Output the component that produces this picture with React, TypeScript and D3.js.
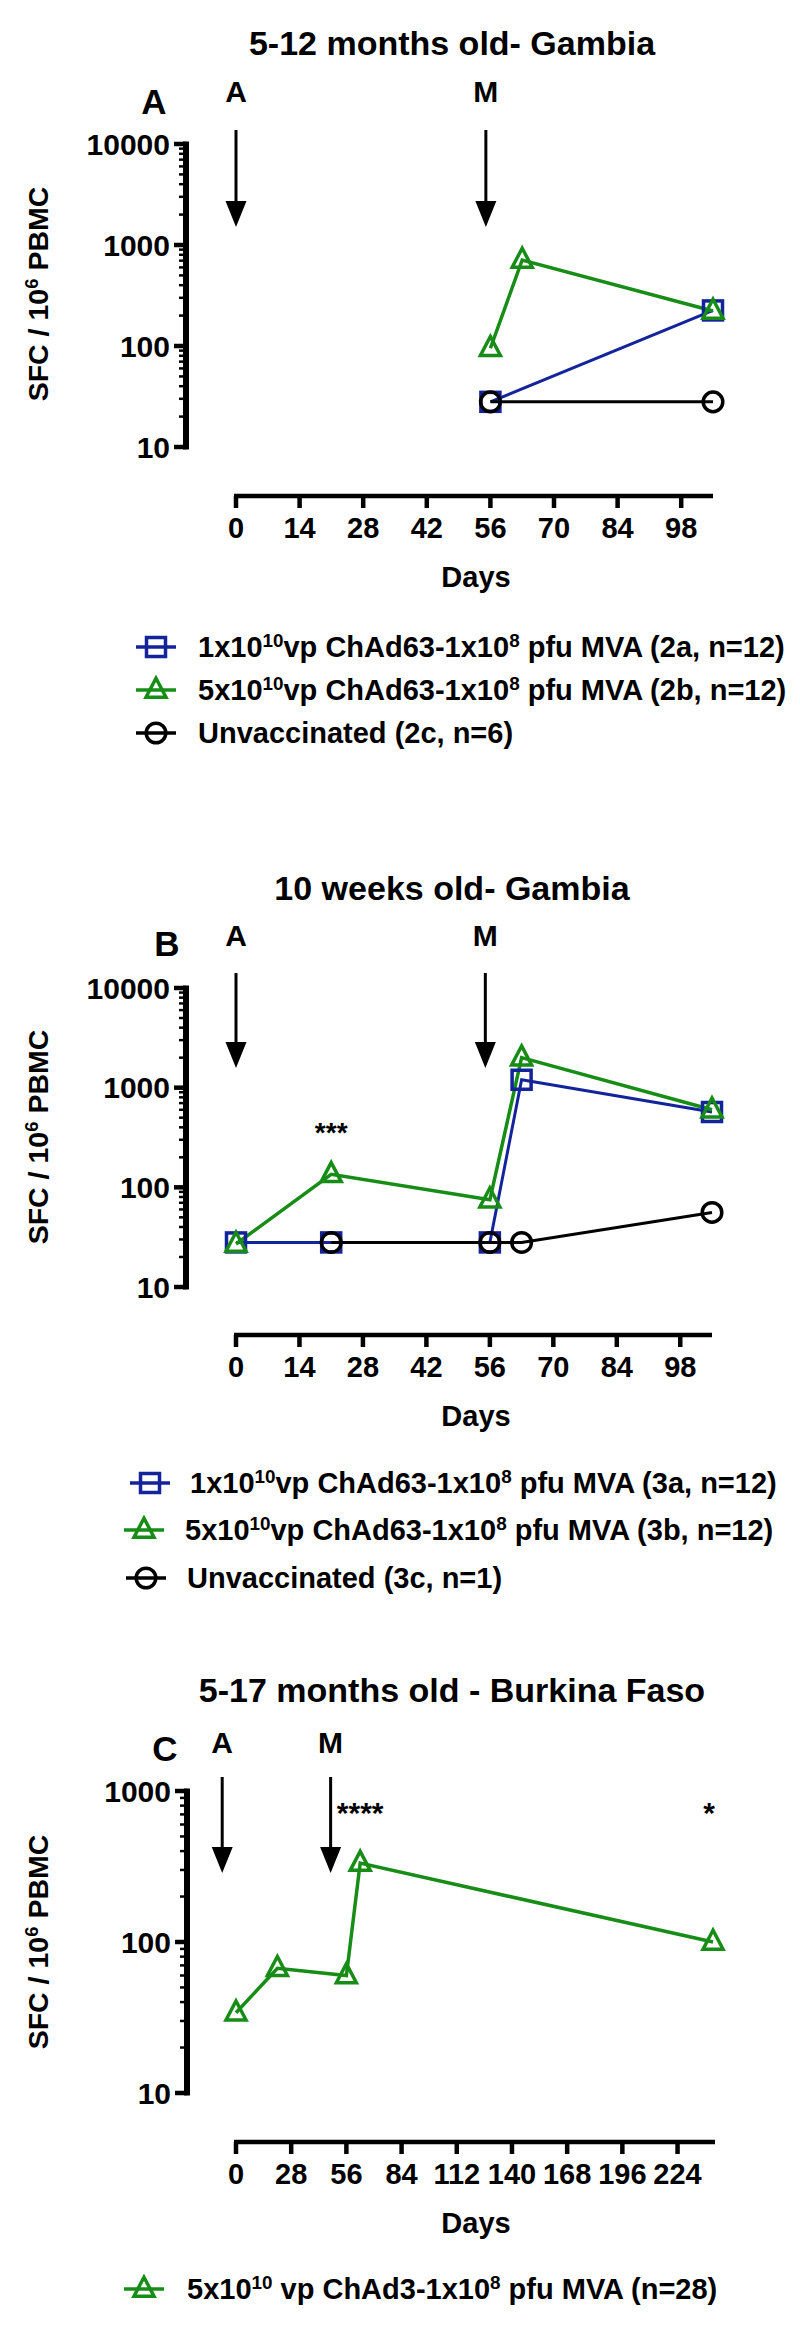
import React from "react";
import * as d3 from "d3";

// ---------- DATA ----------
// Panel A: 5-12 months old - Gambia
const daysA_2a = [56, 105];
const sfcA_2a = [28, 225];
const daysA_2b = [56, 63, 105];
const sfcA_2b = [95, 710, 222];
const daysA_2c = [56, 105];
const sfcA_2c = [28, 28];

// Panel B: 10 weeks old - Gambia
const daysB_3a = [0, 21, 56, 63, 105];
const sfcB_3a = [28, 28, 28, 1200, 570];
const daysB_3b = [0, 21, 56, 63, 105];
const sfcB_3b = [27, 135, 75, 2000, 600];
const daysB_3c = [21, 56, 63, 105];
const sfcB_3c = [28, 28, 28, 56];

// Panel C: 5-17 months old - Burkina Faso
const daysC = [0, 21, 56, 63, 242];
const sfcC = [34, 67, 60, 333, 100];

const xTicksAB = [0, 14, 28, 42, 56, 70, 84, 98];
const xTicksC = [0, 28, 56, 84, 112, 140, 168, 196, 224];
const yTicksAB = [10, 100, 1000, 10000];
const yTicksC = [10, 100, 1000];

const titles = ["5-12 months old- Gambia", "10 weeks old- Gambia", "5-17 months old - Burkina Faso"];
const panelLetters = ["A", "B", "C"];
const arrowDaysAB = [0, 55];
const arrowDaysC = [-7, 48];
const arrowLabels = ["A", "M"];

const legendA = [
  { pre: "1x10", sup1: "10", mid: "vp ChAd63-1x10", sup2: "8", post: " pfu MVA (2a, n=12)" },
  { pre: "5x10", sup1: "10", mid: "vp ChAd63-1x10", sup2: "8", post: " pfu MVA (2b, n=12)" },
  { pre: "Unvaccinated (2c, n=6)" },
];
const legendB = [
  { pre: "1x10", sup1: "10", mid: "vp ChAd63-1x10", sup2: "8", post: " pfu MVA (3a, n=12)" },
  { pre: "5x10", sup1: "10", mid: "vp ChAd63-1x10", sup2: "8", post: " pfu MVA (3b, n=12)" },
  { pre: "Unvaccinated (3c, n=1)" },
];
const legendC = [
  { pre: "5x10", sup1: "10", mid: " vp ChAd3-1x10", sup2: "8", post: " pfu MVA (n=28)" },
];

// ---------- STYLE ----------
const BLUE = "#13239a";
const GREEN = "#178c17";
const BLACK = "#000";
const FONT = "'Liberation Sans', Arial, Helvetica, sans-serif";

type Shape = "square" | "triangle" | "circle";

function Marker({ x, y, shape, color }: { x: number; y: number; shape: Shape; color: string }) {
  if (shape === "square") {
    const s = 19;
    return <rect x={x - s / 2} y={y - s / 2} width={s} height={s} fill="none" stroke={color} strokeWidth={3.5} />;
  }
  if (shape === "circle") {
    return <circle cx={x} cy={y} r={9.8} fill="none" stroke={color} strokeWidth={3.5} />;
  }
  const w = 20, h = 19;
  const p = `M${x},${y - h * 0.62} L${x + w / 2},${y + h * 0.38} L${x - w / 2},${y + h * 0.38} Z`;
  return <path d={p} fill="none" stroke={color} strokeWidth={3.5} strokeLinejoin="miter" />;
}

function Sup({ children }: { children: React.ReactNode }) {
  return (
    <tspan baselineShift="super" fontSize="0.65em">
      {children}
    </tspan>
  );
}

function LegendText({ item }: { item: any }) {
  if (!item.sup1) return <>{item.pre}</>;
  return (
    <>
      {item.pre}
      <Sup>{item.sup1}</Sup>
      <tspan>{item.mid}</tspan>
      <Sup>{item.sup2}</Sup>
      <tspan>{item.post}</tspan>
    </>
  );
}

type Series = { days: number[]; vals: number[]; color: string; shape: Shape; width: number };

type PanelLayout = {
  title: string;
  titleY: number;
  letter: string;
  letterX: number;
  letterY: number;
  arrowLabelY: number;
  arrowTop: number;
  arrowTip: number;
  arrowDays: number[];
  yAxisX: number;
  yRange: [number, number];
  yDomain: [number, number];
  yTicks: number[];
  xAxisY: number;
  xRange: [number, number];
  xDomain: [number, number];
  xTicks: number[];
  ylabelY: number;
  series: Series[];
  legend: any[];
  legendShapes: { shape: Shape; color: string }[];
  legendY: number[];
  legendMarkerX: number[];
  legendTextX: number[];
  stars: { day: number; y: number; text: string; size: number }[];
};

const panels: PanelLayout[] = [
  {
    title: titles[0], titleY: 43, letter: panelLetters[0], letterX: 154, letterY: 101,
    arrowLabelY: 91, arrowTop: 130, arrowTip: 227, arrowDays: arrowDaysAB,
    yAxisX: 186, yRange: [447, 144], yDomain: [10, 10000], yTicks: yTicksAB,
    xAxisY: 496, xRange: [236, 713], xDomain: [0, 105], xTicks: xTicksAB, ylabelY: 294,
    series: [
      { days: daysA_2a, vals: sfcA_2a, color: BLUE, shape: "square", width: 3 },
      { days: daysA_2c, vals: sfcA_2c, color: BLACK, shape: "circle", width: 3 },
      { days: daysA_2b, vals: sfcA_2b, color: GREEN, shape: "triangle", width: 3.5 },
    ],
    legend: legendA,
    legendShapes: [{ shape: "square", color: BLUE }, { shape: "triangle", color: GREEN }, { shape: "circle", color: BLACK }],
    legendY: [647, 690, 733], legendMarkerX: [156, 156, 156], legendTextX: [198, 198, 198],
    stars: [],
  },
  {
    title: titles[1], titleY: 888, letter: panelLetters[1], letterX: 167, letterY: 943,
    arrowLabelY: 935, arrowTop: 973, arrowTip: 1068, arrowDays: arrowDaysAB,
    yAxisX: 186, yRange: [1287, 988], yDomain: [10, 10000], yTicks: yTicksAB,
    xAxisY: 1335, xRange: [236, 712], xDomain: [0, 105], xTicks: xTicksAB, ylabelY: 1137,
    series: [
      { days: daysB_3a, vals: sfcB_3a, color: BLUE, shape: "square", width: 3 },
      { days: daysB_3c, vals: sfcB_3c, color: BLACK, shape: "circle", width: 3 },
      { days: daysB_3b, vals: sfcB_3b, color: GREEN, shape: "triangle", width: 3.5 },
    ],
    legend: legendB,
    legendShapes: [{ shape: "square", color: BLUE }, { shape: "triangle", color: GREEN }, { shape: "circle", color: BLACK }],
    legendY: [1483, 1530, 1578], legendMarkerX: [150, 144, 146], legendTextX: [190, 185, 187],
    stars: [{ day: 21, y: 1127, text: "***", size: 28 }],
  },
  {
    title: titles[2], titleY: 1690, letter: panelLetters[2], letterX: 165, letterY: 1748,
    arrowLabelY: 1742, arrowTop: 1777, arrowTip: 1873, arrowDays: arrowDaysC,
    yAxisX: 187, yRange: [2093, 1791], yDomain: [10, 1000], yTicks: yTicksC,
    xAxisY: 2142, xRange: [236, 715], xDomain: [0, 243], xTicks: xTicksC, ylabelY: 1942,
    series: [{ days: daysC, vals: sfcC, color: GREEN, shape: "triangle", width: 3.5 }],
    legend: legendC,
    legendShapes: [{ shape: "triangle", color: GREEN }],
    legendY: [2289], legendMarkerX: [144], legendTextX: [187],
    stars: [
      { day: 63, y: 1806, text: "****", size: 30 },
      { day: 240, y: 1806, text: "*", size: 30 },
    ],
  },
];

function Panel({ p }: { p: PanelLayout }) {
  const x = d3.scaleLinear().domain(p.xDomain).range(p.xRange);
  const y = d3.scaleLog().domain(p.yDomain).range(p.yRange);
  const minor: number[] = [];
  for (let d = p.yDomain[0]; d < p.yDomain[1]; d *= 10) {
    for (let k = 2; k <= 9; k++) minor.push(d * k);
  }
  const line = d3
    .line<[number, number]>()
    .x((d) => x(d[0]))
    .y((d) => y(d[1]));
  const titleX = 452;
  const daysX = 476;
  return (
    <g fontFamily={FONT} fontWeight="bold">
      <text x={titleX} y={p.titleY} dy="0.36em" textAnchor="middle" fontSize={34}>
        {p.title}
      </text>
      <text x={p.letterX} y={p.letterY} dy="0.36em" textAnchor="middle" fontSize={35}>
        {p.letter}
      </text>
      {p.arrowDays.map((d, i) => (
        <g key={i}>
          <text x={x(d)} y={p.arrowLabelY} dy="0.36em" textAnchor="middle" fontSize={30}>
            {arrowLabels[i]}
          </text>
          <line x1={x(d)} x2={x(d)} y1={p.arrowTop} y2={p.arrowTip - 20} stroke="#000" strokeWidth={3} />
          <path
            d={`M${x(d) - 10.5},${p.arrowTip - 26} L${x(d) + 10.5},${p.arrowTip - 26} L${x(d)},${p.arrowTip} Z`}
            fill="#000"
          />
        </g>
      ))}
      {/* y axis */}
      <line x1={p.yAxisX} x2={p.yAxisX} y1={p.yRange[0] + 2.5} y2={p.yRange[1] - 2.5} stroke="#000" strokeWidth={6} />
      {p.yTicks.map((t) => (
        <g key={t}>
          <line x1={p.yAxisX - 12} x2={p.yAxisX} y1={y(t)} y2={y(t)} stroke="#000" strokeWidth={4.5} />
          <text x={p.yAxisX - 16} y={y(t)} dy="0.36em" textAnchor="end" fontSize={30}>
            {t}
          </text>
        </g>
      ))}
      {minor.map((t) => (
        <line key={t} x1={p.yAxisX - 7} x2={p.yAxisX} y1={y(t)} y2={y(t)} stroke="#000" strokeWidth={2.5} />
      ))}
      <text
        transform={`translate(38,${p.ylabelY}) rotate(-90)`}
        dy="0.36em"
        textAnchor="middle"
        fontSize={28.5}
      >
        SFC / 10<Sup>6</Sup> PBMC
      </text>
      {/* x axis */}
      <line x1={p.xRange[0] - 2} x2={p.xRange[1]} y1={p.xAxisY} y2={p.xAxisY} stroke="#000" strokeWidth={4.5} />
      {p.xTicks.map((t) => (
        <g key={t}>
          <line x1={x(t)} x2={x(t)} y1={p.xAxisY} y2={p.xAxisY + 12} stroke="#000" strokeWidth={4.5} />
          <text x={x(t)} y={p.xAxisY + 32} dy="0.36em" textAnchor="middle" fontSize={29}>
            {t}
          </text>
        </g>
      ))}
      <text x={daysX} y={p.xAxisY + 81} dy="0.36em" textAnchor="middle" fontSize={29}>
        Days
      </text>
      {/* series */}
      {p.series.map((s, i) => (
        <path
          key={"l" + i}
          d={line(s.days.map((d, j) => [d, s.vals[j]] as [number, number])) || ""}
          fill="none"
          stroke={s.color}
          strokeWidth={s.width}
        />
      ))}
      {p.series.map((s, i) => (
        <g key={"m" + i}>
          {s.days.map((d, j) => (
            <Marker key={j} x={x(d)} y={y(s.vals[j])} shape={s.shape} color={s.color} />
          ))}
        </g>
      ))}
      {p.stars.map((s, i) => (
        <text key={i} x={x(s.day)} y={s.y} dy="0.55em" textAnchor="middle" fontSize={s.size}>
          {s.text}
        </text>
      ))}
      {/* legend */}
      {p.legend.map((item, i) => {
        const mx = p.legendMarkerX[i];
        const my = p.legendY[i];
        const sh = p.legendShapes[i];
        return (
          <g key={"lg" + i}>
            <line x1={mx - 20} x2={mx + 20} y1={my} y2={my} stroke={sh.color} strokeWidth={3.5} />
            <Marker x={mx} y={my} shape={sh.shape} color={sh.color} />
            <text x={p.legendTextX[i]} y={my} dy="0.36em" fontSize={29}>
              <LegendText item={item} />
            </text>
          </g>
        );
      })}
    </g>
  );
}

export default function App() {
  return (
    <svg
      width={800}
      height={2328}
      viewBox="0 0 800 2328"
      style={{ position: "absolute", left: 0, top: 0, display: "block", background: "#fff" }}
    >
      <rect width={800} height={2328} fill="#fff" />
      {panels.map((p, i) => (
        <Panel key={i} p={p} />
      ))}
    </svg>
  );
}
